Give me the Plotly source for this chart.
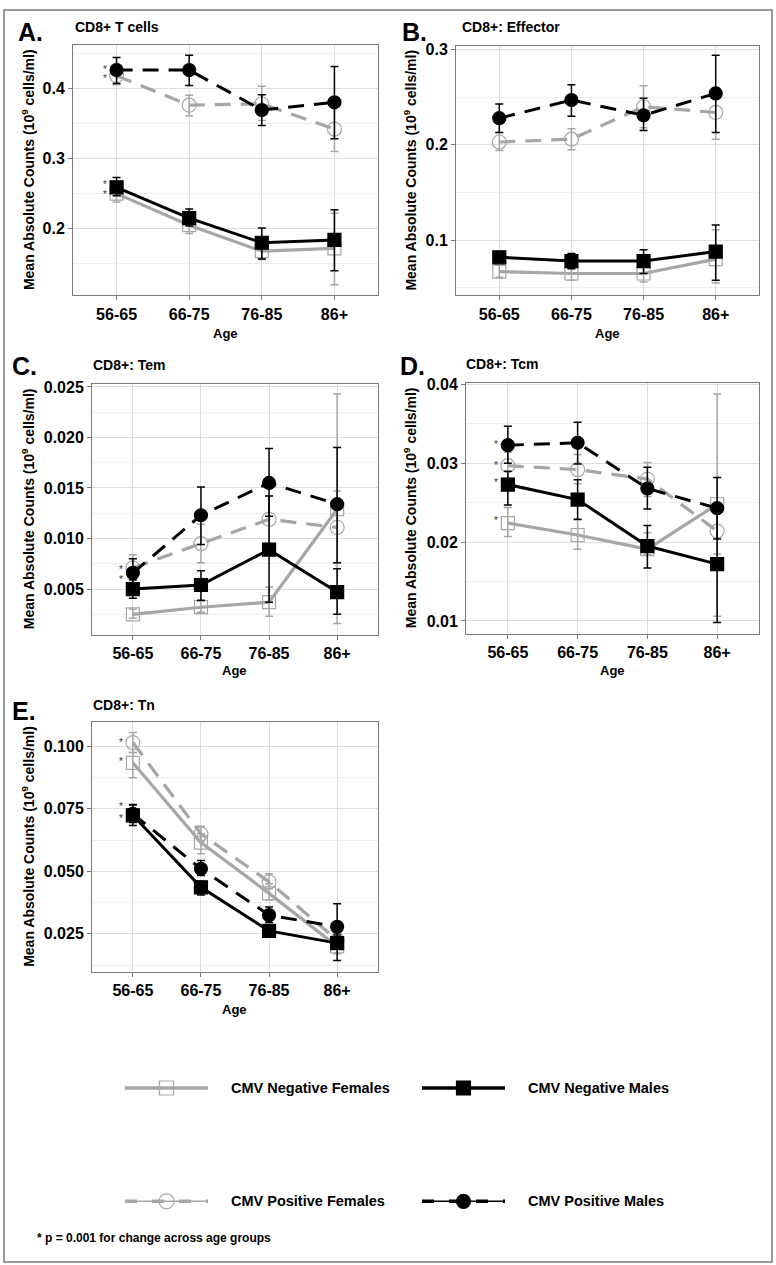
import plotly.graph_objects as go

W, H = 776, 1265
FONT = "Liberation Sans, Arial, Helvetica, sans-serif"
GREY = "#a6a6a6"
BLACK = "#000000"

ages = ["56-65", "66-75", "76-85", "86+"]

# ---------------- Panel A: CD8+ T cells ----------------
a_neg_f = [0.250, 0.205, 0.168, 0.172]
a_neg_f_hi = [0.261, 0.216, 0.181, 0.222]
a_neg_f_lo = [0.238, 0.193, 0.156, 0.120]
a_neg_m = [0.259, 0.215, 0.180, 0.184]
a_neg_m_hi = [0.273, 0.228, 0.201, 0.227]
a_neg_m_lo = [0.247, 0.204, 0.157, 0.140]
a_pos_f = [0.418, 0.376, 0.378, 0.342]
a_pos_f_hi = [0.432, 0.390, 0.403, 0.376]
a_pos_f_lo = [0.405, 0.361, 0.354, 0.310]
a_pos_m = [0.426, 0.426, 0.369, 0.380]
a_pos_m_hi = [0.444, 0.447, 0.391, 0.431]
a_pos_m_lo = [0.407, 0.404, 0.347, 0.328]

# ---------------- Panel B: CD8+: Effector ----------------
b_neg_f = [0.067, 0.065, 0.065, 0.080]
b_neg_f_hi = [0.074, 0.072, 0.075, 0.111]
b_neg_f_lo = [0.061, 0.058, 0.056, 0.055]
b_neg_m = [0.082, 0.078, 0.078, 0.088]
b_neg_m_hi = [0.086, 0.086, 0.090, 0.116]
b_neg_m_lo = [0.077, 0.070, 0.065, 0.058]
b_pos_f = [0.203, 0.206, 0.240, 0.234]
b_pos_f_hi = [0.213, 0.217, 0.262, 0.260]
b_pos_f_lo = [0.194, 0.195, 0.218, 0.206]
b_pos_m = [0.228, 0.247, 0.231, 0.254]
b_pos_m_hi = [0.243, 0.263, 0.249, 0.294]
b_pos_m_lo = [0.213, 0.230, 0.215, 0.213]

# ---------------- Panel C: CD8+: Tem ----------------
c_neg_f = [0.0025, 0.0032, 0.0037, 0.0129]
c_neg_f_hi = [0.0030, 0.0038, 0.0052, 0.0243]
c_neg_f_lo = [0.0021, 0.0027, 0.0023, 0.0016]
c_neg_m = [0.0050, 0.0054, 0.0089, 0.0047]
c_neg_m_hi = [0.0059, 0.0068, 0.0142, 0.0070]
c_neg_m_lo = [0.0041, 0.0039, 0.0037, 0.0025]
c_pos_f = [0.0071, 0.0095, 0.0119, 0.0111]
c_pos_f_hi = [0.0084, 0.0114, 0.0142, 0.0147]
c_pos_f_lo = [0.0060, 0.0076, 0.0093, 0.0076]
c_pos_m = [0.0066, 0.0123, 0.0155, 0.0134]
c_pos_m_hi = [0.0080, 0.0151, 0.0189, 0.0190]
c_pos_m_lo = [0.0055, 0.0094, 0.0122, 0.0076]

# ---------------- Panel D: CD8+: Tcm ----------------
d_neg_f = [0.0224, 0.0209, 0.0191, 0.0248]
d_neg_f_hi = [0.0244, 0.0228, 0.0212, 0.0388]
d_neg_f_lo = [0.0207, 0.0191, 0.0184, 0.0106]
d_neg_m = [0.0273, 0.0254, 0.0195, 0.0172]
d_neg_m_hi = [0.0290, 0.0279, 0.0221, 0.0246]
d_neg_m_lo = [0.0247, 0.0229, 0.0167, 0.0098]
d_pos_f = [0.0297, 0.0292, 0.0280, 0.0214]
d_pos_f_hi = [0.0314, 0.0311, 0.0301, 0.0244]
d_pos_f_lo = [0.0281, 0.0274, 0.0258, 0.0185]
d_pos_m = [0.0323, 0.0326, 0.0268, 0.0243]
d_pos_m_hi = [0.0347, 0.0352, 0.0295, 0.0282]
d_pos_m_lo = [0.0300, 0.0299, 0.0242, 0.0204]

# ---------------- Panel E: CD8+: Tn ----------------
e_neg_f = [0.0934, 0.0615, 0.0412, 0.0200]
e_neg_f_hi = [0.0975, 0.0650, 0.0450, 0.0230]
e_neg_f_lo = [0.0874, 0.0570, 0.0385, 0.0170]
e_neg_m = [0.0724, 0.0436, 0.0262, 0.0213]
e_neg_m_hi = [0.0767, 0.0460, 0.0285, 0.0245]
e_neg_m_lo = [0.0683, 0.0405, 0.0240, 0.0144]
e_pos_f = [0.1015, 0.0650, 0.0458, 0.0225]
e_pos_f_hi = [0.1055, 0.0680, 0.0490, 0.0250]
e_pos_f_lo = [0.0975, 0.0620, 0.0430, 0.0195]
e_pos_m = [0.0730, 0.0510, 0.0325, 0.0278]
e_pos_m_hi = [0.0765, 0.0543, 0.0357, 0.0370]
e_pos_m_lo = [0.0695, 0.0483, 0.0295, 0.0190]

series_names = {
    "neg_f": "CMV Negative Females",
    "neg_m": "CMV Negative Males",
    "pos_f": "CMV Positive Females",
    "pos_m": "CMV Positive Males",
}

panels = [
    dict(letter="A.", title="CD8+ T cells", box=(73, 378, 38, 290),
         yrange=(0.105, 0.462), dtick=0.1, fmt=".1f",
         letter_xy=(30, 25), title_xy=(73, 20), ytitle_x=28, age_y=328,
         data=dict(neg_f=(a_neg_f, a_neg_f_hi, a_neg_f_lo), neg_m=(a_neg_m, a_neg_m_hi, a_neg_m_lo),
                   pos_f=(a_pos_f, a_pos_f_hi, a_pos_f_lo), pos_m=(a_pos_m, a_pos_m_hi, a_pos_m_lo)),
         stars=[("pos_m", 1), ("pos_f", -3), ("neg_m", 3), ("neg_f", -1)]),
    dict(letter="B.", title="CD8+: Effector", box=(456, 759, 39, 290),
         yrange=(0.042, 0.304), dtick=0.1, fmt=".1f",
         letter_xy=(414, 25), title_xy=(460, 20), ytitle_x=410, age_y=328,
         data=dict(neg_f=(b_neg_f, b_neg_f_hi, b_neg_f_lo), neg_m=(b_neg_m, b_neg_m_hi, b_neg_m_lo),
                   pos_f=(b_pos_f, b_pos_f_hi, b_pos_f_lo), pos_m=(b_pos_m, b_pos_m_hi, b_pos_m_lo)),
         stars=[]),
    dict(letter="C.", title="CD8+: Tem", box=(92, 378, 379, 631),
         yrange=(0.0005, 0.0253), dtick=0.005, fmt=".3f",
         letter_xy=(25, 361), title_xy=(91, 360), ytitle_x=28, age_y=667,
         data=dict(neg_f=(c_neg_f, c_neg_f_hi, c_neg_f_lo), neg_m=(c_neg_m, c_neg_m_hi, c_neg_m_lo),
                   pos_f=(c_pos_f, c_pos_f_hi, c_pos_f_lo), pos_m=(c_pos_m, c_pos_m_hi, c_pos_m_lo)),
         stars=[("pos_f", -2), ("pos_m", -7)]),
    dict(letter="D.", title="CD8+: Tcm", box=(466, 759, 378, 630),
         yrange=(0.0084, 0.0402), dtick=0.01, fmt=".2f",
         letter_xy=(412, 361), title_xy=(464, 359), ytitle_x=410, age_y=667,
         data=dict(neg_f=(d_neg_f, d_neg_f_hi, d_neg_f_lo), neg_m=(d_neg_m, d_neg_m_hi, d_neg_m_lo),
                   pos_f=(d_pos_f, d_pos_f_hi, d_pos_f_lo), pos_m=(d_pos_m, d_pos_m_hi, d_pos_m_lo)),
         stars=[("pos_m", 1), ("pos_f", 0), ("neg_m", 2), ("neg_f", 3)]),
    dict(letter="E.", title="CD8+: Tn", box=(92, 378, 719, 970),
         yrange=(0.0099, 0.1097), dtick=0.025, fmt=".3f",
         letter_xy=(24, 708), title_xy=(91, 702), ytitle_x=28, age_y=1008,
         data=dict(neg_f=(e_neg_f, e_neg_f_hi, e_neg_f_lo), neg_m=(e_neg_m, e_neg_m_hi, e_neg_m_lo),
                   pos_f=(e_pos_f, e_pos_f_hi, e_pos_f_lo), pos_m=(e_pos_m, e_pos_m_hi, e_pos_m_lo)),
         stars=[("pos_f", 0), ("neg_f", 1), ("pos_m", 7), ("neg_m", -3)]),
]

styles = {
    "neg_f": dict(color=GREY, dash="solid", symbol="square-open", msize=13, lw=3.2),
    "pos_f": dict(color=GREY, dash="16px,10px", symbol="circle-open", msize=14, lw=3.2),
    "neg_m": dict(color=BLACK, dash="solid", symbol="square", msize=13, lw=3.0),
    "pos_m": dict(color=BLACK, dash="16px,10px", symbol="circle", msize=13, lw=3.0),
}
draw_order = ["neg_f", "pos_f", "neg_m", "pos_m"]


def px_x(p):
    return p / W


def px_y(p):
    return 1 - p / H


fig = go.Figure()
annotations = []
layout_axes = {}

for i, pn in enumerate(panels, start=1):
    sfx = "" if i == 1 else str(i)
    xa, ya = "x" + sfx, "y" + sfx
    x0, x1, y0, y1 = pn["box"]
    for key in draw_order:
        vals, hi, lo = pn["data"][key]
        st = styles[key]
        fig.add_trace(go.Scatter(
            x=list(range(len(ages))), y=vals, xaxis=xa, yaxis=ya,
            mode="lines+markers", showlegend=False, name=series_names[key],
            line=dict(color=st["color"], width=st["lw"], dash=st["dash"]),
            marker=dict(symbol=st["symbol"], size=st["msize"], color=st["color"],
                        line=dict(color=st["color"], width=1.2)),
            error_y=dict(type="data", symmetric=False,
                         array=[h - v for h, v in zip(hi, vals)],
                         arrayminus=[v - l for v, l in zip(vals, lo)],
                         color=st["color"], thickness=1.5, width=4),
        ))
    layout_axes["xaxis" + sfx] = dict(
        domain=[px_x(x0), px_x(x1)], anchor=ya, range=[-0.6, 3.6],
        tickmode="array", tickvals=list(range(len(ages))), ticktext=ages,
        showgrid=True, gridcolor="#dedede", gridwidth=1, zeroline=False,
        showline=True, linecolor="#7a7a7a", linewidth=1, mirror=True,
        ticks="outside", ticklen=4, tickcolor="#7a7a7a",
        tickfont=dict(family=FONT, size=16, color="black", weight="bold"),
    )
    layout_axes["yaxis" + sfx] = dict(
        domain=[px_y(y1), px_y(y0)], anchor=xa, range=list(pn["yrange"]),
        tick0=0, dtick=pn["dtick"], tickformat=pn["fmt"],
        showgrid=True, gridcolor="#dedede", gridwidth=1, zeroline=False,
        minor=dict(showgrid=True, tick0=0, dtick=pn["dtick"] / 2, gridcolor="#eeeeee", gridwidth=1),
        showline=True, linecolor="#7a7a7a", linewidth=1, mirror=True,
        ticks="outside", ticklen=4, tickcolor="#7a7a7a",
        tickfont=dict(family=FONT, size=16, color="black", weight="bold"),
    )
    # panel letter
    lx, ly = pn["letter_xy"]
    annotations.append(dict(x=px_x(lx), y=px_y(ly), xref="paper", yref="paper", text=pn["letter"],
                            showarrow=False, xanchor="center", yanchor="middle",
                            font=dict(family=FONT, size=25, color="black", weight="bold")))
    tx, ty = pn["title_xy"]
    annotations.append(dict(x=px_x(tx), y=px_y(ty), xref="paper", yref="paper", text=pn["title"],
                            showarrow=False, xanchor="left", yanchor="middle",
                            font=dict(family=FONT, size=14, color="black", weight="bold")))
    annotations.append(dict(x=px_x(pn["ytitle_x"]), y=px_y((y0 + y1) / 2), xref="paper", yref="paper",
                            text="Mean Absolute Counts (10<sup>9</sup> cells/ml)", textangle=-90,
                            showarrow=False, xanchor="center", yanchor="middle",
                            font=dict(family=FONT, size=14, color="black", weight="bold")))
    annotations.append(dict(x=px_x((x0 + x1) / 2), y=px_y(pn["age_y"]), xref="paper", yref="paper",
                            text="Age", showarrow=False, xanchor="center", yanchor="middle",
                            font=dict(family=FONT, size=13, color="black", weight="bold")))
    for key, ysh in pn["stars"]:
        annotations.append(dict(x=0, y=pn["data"][key][0][0], xref=xa, yref=ya, text="*",
                                showarrow=False, xanchor="center", yanchor="middle",
                                xshift=-12, yshift=ysh,
                                font=dict(family=FONT, size=10, color="#333333")))

# ---------------- Legend (drawn on a hidden pixel-space axis) ----------------
LX, LY = "x6", "y6"
layout_axes["xaxis6"] = dict(domain=[0, 1], range=[0, W], visible=False, anchor="y6", fixedrange=True)
layout_axes["yaxis6"] = dict(domain=[0, 1], range=[H, 0], visible=False, anchor="x6", fixedrange=True)

legend_slots = [
    ("neg_f", 125, 208, 1087, 229),
    ("neg_m", 422, 505, 1087, 526),
    ("pos_f", 125, 208, 1201, 229),
    ("pos_m", 422, 505, 1201, 526),
]
for key, lx0, lx1, ly, tx in legend_slots:
    st = styles[key]
    if st["dash"] != "solid":
        fig.add_trace(go.Scatter(x=[lx0, lx1], y=[ly, ly], xaxis=LX, yaxis=LY, mode="lines",
                                 showlegend=False, hoverinfo="skip",
                                 line=dict(color=st["color"], width=1.5)))
        dash = "12px,15px"
    else:
        dash = "solid"
    fig.add_trace(go.Scatter(x=[lx0, lx1], y=[ly, ly], xaxis=LX, yaxis=LY, mode="lines",
                             showlegend=False, hoverinfo="skip",
                             line=dict(color=st["color"], width=3.5, dash=dash)))
    fig.add_trace(go.Scatter(x=[(lx0 + lx1) / 2], y=[ly], xaxis=LX, yaxis=LY, mode="markers",
                             showlegend=False, hoverinfo="skip",
                             marker=dict(symbol=st["symbol"], size=st["msize"] + 1, color=st["color"],
                                         line=dict(color=st["color"], width=1.2))))
    annotations.append(dict(x=px_x(tx), y=px_y(ly), xref="paper", yref="paper", text=series_names[key],
                            showarrow=False, xanchor="left", yanchor="middle",
                            font=dict(family=FONT, size=14.5, color="black", weight="bold")))

annotations.append(dict(x=px_x(35), y=px_y(1238), xref="paper", yref="paper",
                        text="* p = 0.001 for change across age groups",
                        showarrow=False, xanchor="left", yanchor="middle",
                        font=dict(family=FONT, size=12, color="black", weight="bold")))

shapes = [dict(type="rect", xref="paper", yref="paper",
               x0=px_x(4), x1=px_x(772), y0=px_y(1262), y1=px_y(3),
               line=dict(color="#7a7a7a", width=1.5), fillcolor="rgba(0,0,0,0)", layer="above")]

fig.update_layout(
    width=W, height=H, autosize=False,
    margin=dict(l=0, r=0, t=0, b=0),
    paper_bgcolor="white", plot_bgcolor="rgba(0,0,0,0)",
    showlegend=False, annotations=annotations, shapes=shapes,
    font=dict(family=FONT, color="black"),
    **layout_axes,
)

fig.write_html(
    "out.html",
    config={"displayModeBar": False},
    post_script="document.body.style.margin='0';document.body.style.overflow='hidden';",
)
